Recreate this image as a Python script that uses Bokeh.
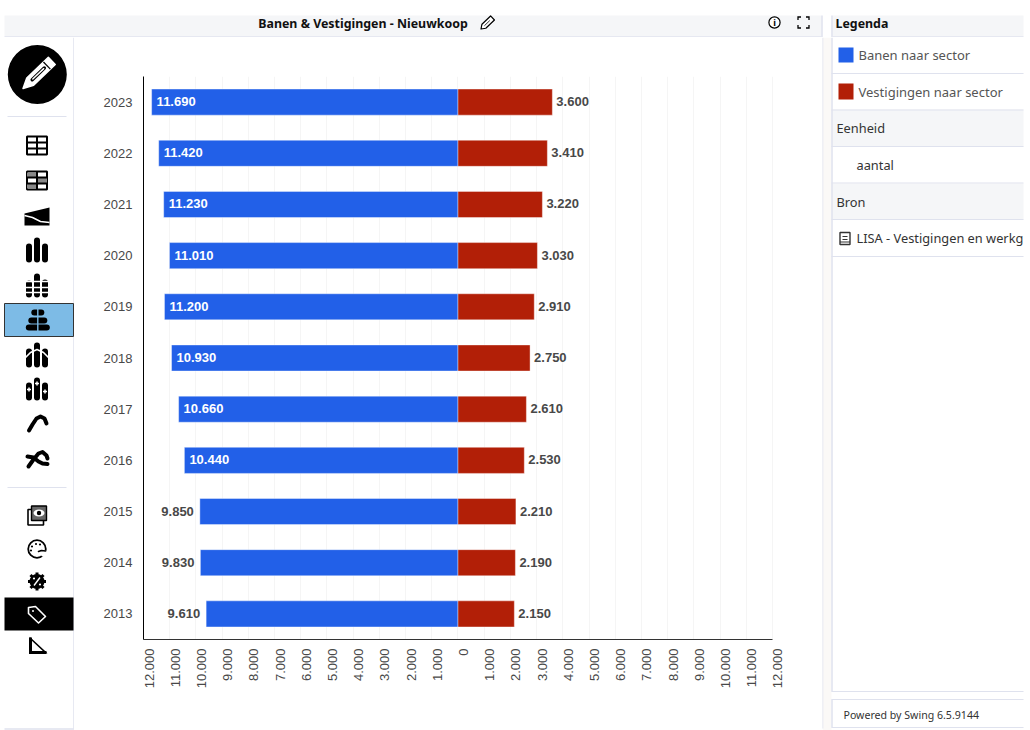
from math import pi
from bokeh.plotting import figure
from bokeh.layouts import column, row
from bokeh.models import Range1d, FactorRange, FixedTicker, Label, ColumnDataSource
from bokeh.core.properties import value
from bokeh.embed import file_html
from bokeh.resources import INLINE

# ---- data -------------------------------------------------------------
years = ["2013", "2014", "2015", "2016", "2017", "2018", "2019", "2020", "2021", "2022", "2023"]
banen = [9610, 9830, 9850, 10440, 10660, 10930, 11200, 11010, 11230, 11420, 11690]
vestigingen = [2150, 2190, 2210, 2530, 2610, 2750, 2910, 3030, 3220, 3410, 3600]
tick_values = [-12000, -11000, -10000, -9000, -8000, -7000, -6000, -5000, -4000, -3000, -2000, -1000,
               0, 1000, 2000, 3000, 4000, 5000, 6000, 7000, 8000, 9000, 10000, 11000, 12000]
chart_title = "Banen & Vestigingen - Nieuwkoop"
unit_label = "aantal"
legend_title = "Legenda"
legend_series = ["Banen naar sector", "Vestigingen naar sector"]
source_name = "LISA - Vestigingen en werkg"

# ---- style ------------------------------------------------------------
BLUE, RED = "#2260E8", "#B21F07"
BORDER = "#DFE2EE"
HEAD = "#F5F6F8"
TXT = "#484848"
CHART_FONT = "Liberation Sans"
UI_FONT = "Noto Sans"


def fmt(v):
    return f"{abs(v):,}".replace(",", ".")


def panel(x0, x1, y0, y1):
    """A chrome panel whose coordinates are page pixels."""
    p = figure(width=x1 - x0, height=y1 - y0, x_range=Range1d(x0, x1), y_range=Range1d(y1, y0),
               x_axis_type=None, y_axis_type=None, toolbar_location=None, output_backend="svg",
               min_border=0, min_border_left=0, min_border_right=0, min_border_top=0, min_border_bottom=0,
               frame_align=False)
    p.grid.visible = False
    p.outline_line_color = None
    return p


def txt(p, x, y, s, size=13, color="#333333", weight="normal", align="left", font=UI_FONT):
    p.text([x], [y], text=[s], text_font=value(font), text_font_size=f"{size}px", text_color=color,
           text_font_style=weight, text_align=align, text_baseline="middle")


def seg(p, xs, ys, w=1.0, color="black", cap="round", join="round"):
    p.line(xs, ys, line_width=w, line_color=color, line_cap=cap, line_join=join)


def box(p, x0, x1, y0, y1, fill, line=None, lw=1):
    p.quad(left=[x0], right=[x1], top=[y0], bottom=[y1], fill_color=fill, line_color=line, line_width=lw)


def pencil(p, tx, ty, length, half, body, slit, edge=None, edge_w=1.5):
    """Pencil pointing down-left from its tip (tx, ty)."""
    dx, dy, nx, ny = 0.72, -0.69, 0.69, 0.72

    def pt(a, b):
        return tx + a * length * dx + b * nx, ty + a * length * dy + b * ny

    outline = [pt(0, 0), pt(0.25, half), pt(1, half), pt(1, -half), pt(0.25, -half)]
    p.patch([q[0] for q in outline], [q[1] for q in outline], fill_color=body, line_color=edge or body,
            line_width=edge_w, line_join="round")
    a, b = pt(0.32, 0), pt(0.74, 0)
    seg(p, [a[0], b[0]], [a[1], b[1]], slit, "black", "round")
    if edge is None:
        c, d = pt(0.34, 0), pt(0.72, 0)
        seg(p, [c[0], d[0]], [c[1], d[1]], slit * 0.4, body, "round")
        e, f = pt(0.83, half), pt(0.83, -half)
        seg(p, [e[0], f[0]], [e[1], f[1]], slit * 0.35, "black", "butt")


# ---- header -----------------------------------------------------------
head = panel(0, 1030, 0, 37)
box(head, 4, 821, 15, 36, HEAD)
box(head, 832, 1023, 15, 36, HEAD)
seg(head, [4, 821], [36.5, 36.5], 1.5, BORDER, "butt")
seg(head, [832, 1023], [36.5, 36.5], 1.5, BORDER, "butt")
seg(head, [821.5, 821.5], [15, 37], 1.5, BORDER, "butt")
seg(head, [831.5, 831.5], [15, 37], 1.5, BORDER, "butt")
txt(head, 362.5, 22.5, chart_title, 12.4, "#111111", "bold", "center")
txt(head, 835, 22.5, legend_title, 12.4, "#111111", "bold")
pencil(head, 480.5, 28.5, 16, 2.8, "white", 0.8, edge="black", edge_w=1.2)
head.circle([774], [22], radius=5.6, fill_color="white", line_color="black", line_width=1.2)
txt(head, 774, 22.3, "i", 9, "black", "bold", "center")
for sx, sy in [(-1, -1), (1, -1), (-1, 1), (1, 1)]:
    seg(head, [803 + sx * 5.5, 803 + sx * 5.5, 803 + sx * 2.5], [22 + sy * 2.5, 22 + sy * 5.5, 22 + sy * 5.5], 1.3,
        "black", "butt", "miter")

# ---- icon sidebar -----------------------------------------------------
side = panel(0, 74, 37, 730)
seg(side, [73.5, 73.5], [37, 728], 1.5, BORDER, "butt")
seg(side, [4, 74], [728.5, 728.5], 1.5, BORDER, "butt")
side.circle([36.8], [74], radius=29.5, fill_color="black", line_color=None)
pencil(side, 22.5, 88, 40, 5, "white", 3.5)
for yy in (116, 487):
    seg(side, [7, 66], [yy, yy], 1, BORDER, "butt")
CX = 36.5


def table(y, dense=False):
    side.quad(left=[CX - 10], right=[CX + 10], top=[y - 9], bottom=[y + 9], fill_color="white",
              line_color="black", line_width=2)
    if dense:
        box(side, CX - 10, CX - 1, y - 8, y - 3, "#888888")
        box(side, CX + 1, CX + 10, y - 3, y + 3, "#888888")
        box(side, CX - 10, CX - 1, y + 3, y + 8, "#888888")
    seg(side, [CX - 10, CX + 10], [y - 3, y - 3], 2, "black", "butt")
    seg(side, [CX - 10, CX + 10], [y + 3, y + 3], 2, "black", "butt")
    seg(side, [CX, CX], [y - 9, y + 9], 2, "black", "butt")


table(145)
table(180, True)
# sankey
side.patch([24, 49, 49, 24], [213, 207, 225, 225], fill_color="black", line_color=None)
seg(side, [24, 32, 40, 49], [215, 217, 221, 222], 1.5, "white", "butt")


def bars(y, heights, w=6.0, color="black"):
    for dx, h in zip((-8, 0, 8), heights):
        seg(side, [CX + dx, CX + dx], [y + 9, y + 9 - h], w, color, "round")


bars(250, (13, 19, 13))
bars(285, (11, 18, 12))
for yy in (281, 287, 292):
    seg(side, [CX - 13, CX + 13], [yy, yy], 1.3, "white", "butt")
# selected: pyramid
box(side, 4, 73, 303, 336, "#7DBBE6", "#333333", 1)
for yy, w in ((312, 3.5), (320, 6.5), (327, 9)):
    seg(side, [37.3 - w, 37.3 + w], [yy, yy], 6, "black", "round")
seg(side, [37.3, 37.3], [306, 332], 1.4, "#7DBBE6", "butt")
# bars with curve
bars(355, (13, 19, 13))
seg(side, [23, 30, 36.5, 43, 50], [359, 352, 349, 352, 359], 1.6, "white", "round")
# bars with plus marks
bars(388, (12, 17, 12))
for px, py in ((28.5, 389), (36.5, 383), (44.5, 391)):
    seg(side, [px - 2, px + 2], [py, py], 1.5, "white", "butt")
    seg(side, [px, px], [py - 2, py + 2], 1.5, "white", "butt")
# curves
seg(side, [28.5, 32, 36, 40, 44, 46], [430, 424, 418, 416, 418, 423], 4, "black", "round")
seg(side, [28, 33, 38, 42, 46, 47], [466, 459, 453, 451.5, 455, 458], 4, "black", "round")
seg(side, [27, 33, 38, 42, 47], [456, 457, 461, 463, 463.5], 4, "black", "round")
# photo / eye
box(side, 27.5, 43, 509, 524.5, "white", "black", 1.6)
box(side, 31, 46, 505.5, 520, "#666666", "black", 1.4)
side.ellipse([38.5], [512.5], width=11, height=7, fill_color="white", line_color=None)
side.circle([38.5], [512.5], radius=2.2, fill_color="black", line_color=None)
# palette
side.circle([CX], [548.5], radius=8.8, fill_color="white", line_color="black", line_width=1.8)
side.circle([CX + 7], [553], radius=3.2, fill_color="white", line_color=None)
seg(side, [CX + 1.5, CX + 4.5, CX + 8.5], [551, 550, 550.5], 1.6, "black", "round")
side.circle([CX - 5, CX - 1, CX + 3, CX - 6], [546, 543.5, 544, 550], radius=1.1, fill_color="black", line_color=None)
# gear with percent
side.circle([CX], [581], radius=7.5, fill_color="black", line_color=None)
for dx, dy in ((-9, 0), (9, 0), (0, -9), (0, 9), (-6.5, -6.5), (6.5, -6.5), (-6.5, 6.5), (6.5, 6.5)):
    seg(side, [CX, CX + dx], [581, 581 + dy], 3, "black", "butt")
seg(side, [CX - 3, CX + 3], [585, 577], 1.4, "white", "butt")
side.circle([CX - 3, CX + 3], [578, 584], radius=1.1, fill_color="white", line_color=None)
# selected: tag
box(side, 4, 73, 597, 630, "black")
side.patch([28, 35, 45, 38, 28], [607, 606, 616, 622.5, 613], fill_color="black", line_color="white",
           line_width=1.6, line_join="round")
side.circle([32.5], [610.5], radius=1, fill_color="white", line_color=None)
# ruler triangle
side.patch([30, 30, 45], [638, 652, 652], fill_color="white", line_color="black", line_width=1.6, line_join="miter")
seg(side, [30, 30, 46], [637, 652, 652], 3, "black", "butt", "miter")

# ---- main chart -------------------------------------------------------
PAD = 210  # tick labels sit a little right of their gridline in the reference
main = figure(width=748, height=690, x_range=Range1d(-12000, 12420), y_range=FactorRange(factors=years),
              toolbar_location=None, output_backend="svg", min_border_left=69, min_border_right=39,
              min_border_top=39, min_border_bottom=88, frame_align=False)
main.outline_line_color = None
main.ygrid.visible = False
main.xgrid.ticker = FixedTicker(ticks=tick_values)
main.xgrid.grid_line_color = "#F5F5F5"
main.xgrid.grid_line_width = 1

ax = main.xaxis[0]
ax.ticker = FixedTicker(ticks=[v + PAD for v in tick_values])
ax.major_label_overrides = {v + PAD: fmt(v) for v in tick_values}
ax.bounds = (-12000, 12000)
ax.major_label_orientation = pi / 2
ax.major_tick_line_color = None
ax.minor_tick_line_color = None
ax.axis_line_color = "#333333"
ax.major_label_text_font = CHART_FONT
ax.major_label_text_font_size = "13px"
ax.major_label_text_color = TXT
ax.major_label_standoff = 3

ay = main.yaxis[0]
ay.major_tick_line_color = None
ay.minor_tick_line_color = None
ay.axis_line_color = "black"
ay.major_label_text_font = CHART_FONT
ay.major_label_text_font_size = "13px"
ay.major_label_text_color = TXT
ay.major_label_standoff = 5

src = ColumnDataSource(dict(
    year=years,
    left=[-v for v in banen],
    right=vestigingen,
    ves_lab=[fmt(v) for v in vestigingen],
))
main.hbar(y="year", left="left", right=0, height=0.51, source=src, fill_color=BLUE, line_color="white",
          line_alpha=0.4, line_width=1)
main.hbar(y="year", left=0, right="right", height=0.51, source=src, fill_color=RED, line_color="white",
          line_alpha=0.4, line_width=1)

inside = [i for i, v in enumerate(banen) if v >= 10000]
outside = [i for i, v in enumerate(banen) if v < 10000]
main.text([-banen[i] for i in inside], [years[i] for i in inside], text=[fmt(banen[i]) for i in inside],
          text_color="white", text_font=value(CHART_FONT), text_font_style="bold", text_font_size="13px",
          text_baseline="middle", text_align="left", x_offset=5, y_offset=-0.5)
main.text([-banen[i] for i in outside], [years[i] for i in outside], text=[fmt(banen[i]) for i in outside],
          text_color=TXT, text_font=value(CHART_FONT), text_font_style="bold", text_font_size="13px",
          text_baseline="middle", text_align="right", x_offset=-6, y_offset=-0.5)
main.text("right", "year", text="ves_lab", source=src, text_color=TXT, text_font=value(CHART_FONT),
          text_font_style="bold", text_font_size="13px", text_baseline="middle", text_align="left", x_offset=4,
          y_offset=-0.5)
main.add_layout(Label(x=0, y=-62, y_units="screen", text=unit_label, text_align="center", text_baseline="middle",
                      text_font=CHART_FONT, text_font_size="13px", text_color="#555555", text_font_style="bold"))

# thin strip below the chart carrying the bottom border
strip = panel(74, 822, 727, 730)
seg(strip, [74, 822], [728.5, 728.5], 1.5, BORDER, "butt")

# ---- legend panel -----------------------------------------------------
leg = panel(822, 1030, 37, 730)
box(leg, 822, 831, 37, 730, "#FBF9F7")
box(leg, 831, 1023, 37, 691, "white")
box(leg, 831, 1023, 699, 727, "white")
box(leg, 831, 1023, 109, 146, HEAD)
box(leg, 831, 1023, 183, 219, HEAD)
for yy in (73, 109.5, 146, 182.5, 219, 256, 691, 699, 727):
    seg(leg, [831, 1023], [yy, yy], 1.2, BORDER, "butt")
seg(leg, [822, 822], [37, 728], 1.5, BORDER, "butt")
seg(leg, [831.5, 831.5], [37, 691], 1.5, BORDER, "butt")
seg(leg, [831.5, 831.5], [699, 727], 1.5, BORDER, "butt")
box(leg, 838, 853, 47, 62, BLUE)
box(leg, 838, 853, 83, 99, RED)
txt(leg, 858, 54.5, legend_series[0], 13, "#555555")
txt(leg, 858, 91, legend_series[1], 13, "#555555")
txt(leg, 836, 127.5, "Eenheid", 12.8, "#333333")
txt(leg, 856, 164.5, unit_label, 12.8, "#333333")
txt(leg, 836, 201, "Bron", 12.8, "#333333")
txt(leg, 856, 237.5, source_name, 12.8, "#333333")
# book icon
box(leg, 839.5, 849.5, 232, 244, "white", "#333333", 1.4)
seg(leg, [842, 847], [236, 236], 1.2, "#333333", "butt")
seg(leg, [842, 847], [239, 239], 1.2, "#333333", "butt")
seg(leg, [839.5, 849.5], [241.5, 241.5], 1.2, "#333333", "butt")
txt(leg, 843, 714.5, "Powered by Swing 6.5.9144", 10.6, "#333333")

page = column(head, row(side, column(main, strip), leg))
open("out.html", "w").write(file_html(page, INLINE))
